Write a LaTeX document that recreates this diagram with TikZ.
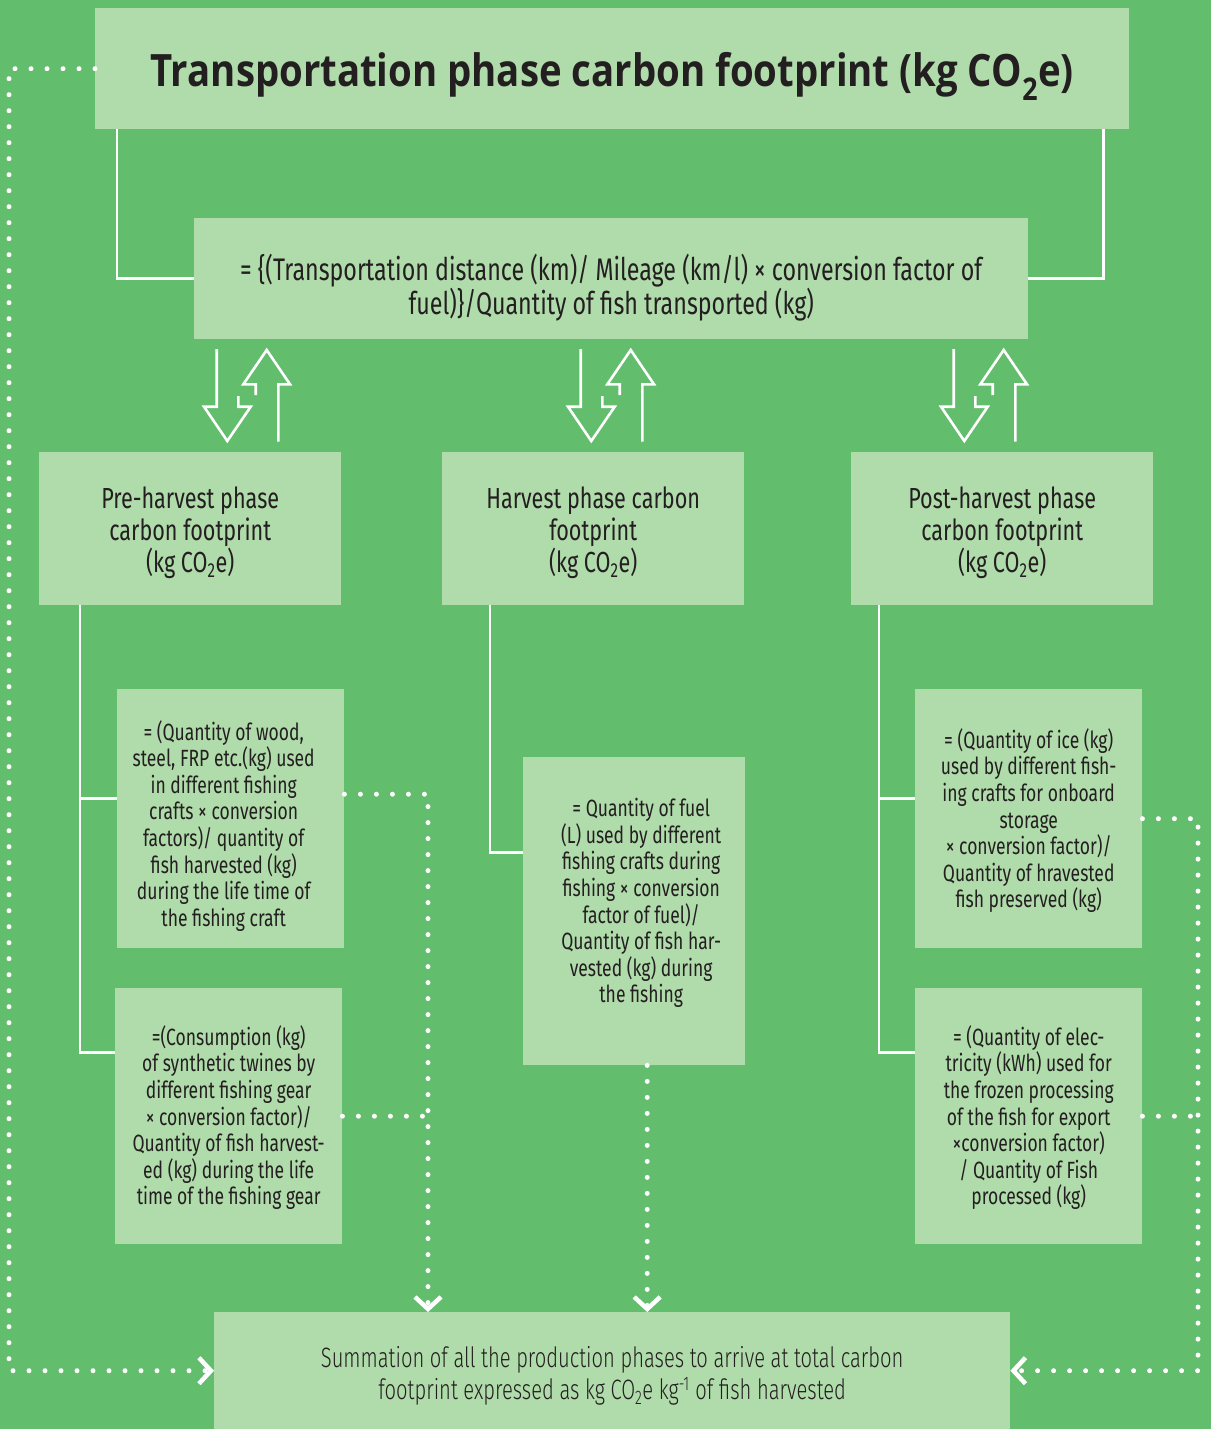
\documentclass[tikz,border=0pt]{standalone}
\usepackage{fontspec}
\setmainfont[FakeStretch=0.745]{Fira Sans}
\newfontfamily\titlefont[FakeStretch=0.86]{Open Sans}
\newfontfamily\lightfont[FakeStretch=0.72]{Fira Sans Light}
\usetikzlibrary{arrows.meta}
\definecolor{bg}{RGB}{98,189,109}
\definecolor{boxc}{RGB}{176,219,170}
\definecolor{txt}{RGB}{35,31,32}
\begin{document}
\begin{tikzpicture}[x=1pt,y=-1pt,
  box/.style={fill=boxc,inner sep=0pt,anchor=north west},
  tx/.style={text=txt,inner sep=0pt,align=center},
  wline/.style={draw=white,line width=2.8pt},
  dotline/.style={draw=white,line width=5pt,line cap=round,dash pattern=on 0pt off 16pt},
  chev/.style={-{Straight Barb[length=12pt,width=26pt,line width=4.5pt]}},
  twoarrow/.style={draw=white,line width=2.6pt,line join=miter},
  ftitle/.style={font=\titlefont\bfseries\fontsize{44.6}{50}\selectfont},
  fformula/.style={font=\fontsize{31.2}{31.5}\selectfont},
  fphase/.style={font=\fontsize{29}{32}\selectfont},
  fsub/.style={font=\fontsize{23.5}{26.6}\selectfont},
  fsum/.style={font=\lightfont\fontsize{28}{32}\selectfont}
]
\fill[bg] (0,0) rectangle (1211,1429);
\useasboundingbox (0,0) rectangle (1211,1429);

% boxes
\node[box,minimum width=1034pt,minimum height=121pt] (title) at (95,8) {};
\node[box,minimum width=834pt,minimum height=121pt] (formula) at (194,218) {};
\node[box,minimum width=302pt,minimum height=153pt] (pre) at (39,452) {};
\node[box,minimum width=302pt,minimum height=153pt] (harv) at (442,452) {};
\node[box,minimum width=302pt,minimum height=153pt] (post) at (851,452) {};
\node[box,minimum width=227pt,minimum height=259pt] (pre1) at (117,689) {};
\node[box,minimum width=227pt,minimum height=256pt] (pre2) at (115,988) {};
\node[box,minimum width=222pt,minimum height=308pt] (harv1) at (523,757) {};
\node[box,minimum width=227pt,minimum height=259pt] (post1) at (915,689) {};
\node[box,minimum width=227pt,minimum height=256pt] (post2) at (915,988) {};
\node[box,minimum width=796pt,minimum height=117pt] (sum) at (214,1312) {};

% texts
\node[tx,ftitle] (titleT) at ([yshift=-8pt]title.center)
  {Transportation phase carbon footprint (kg CO\textsubscript{2}e)};
\node[tx,fformula] (formulaT) at ([yshift=-9pt]formula.center)
  {= \{(Transportation distance (km)/ Mileage (km/l) × conversion factor of\\fuel)\}/Quantity of fish transported (kg)};
\node[tx,fphase] (preT) at ([yshift=-4pt]pre.center)
  {Pre-harvest phase\\carbon footprint\\(kg CO\textsubscript{2}e)};
\node[tx,fphase] (harvT) at ([yshift=-4pt]harv.center)
  {Harvest phase carbon\\footprint\\(kg CO\textsubscript{2}e)};
\node[tx,fphase] (postT) at ([yshift=-4pt]post.center)
  {Post-harvest phase\\carbon footprint\\(kg CO\textsubscript{2}e)};
\node[tx,fsub] (pre1T) at ([xshift=-7pt,yshift=-7pt]pre1.center)
  {= (Quantity of wood,\\steel, FRP etc.(kg) used\\in different fishing\\crafts × conversion\\factors)/ quantity of\\fish harvested (kg)\\during the life time of\\the fishing craft};
\node[tx,fsub] (pre2T) at ([yshift=-1.5pt]pre2.center)
  {=(Consumption (kg)\\of synthetic twines by\\different fishing gear\\× conversion factor)/\\Quantity of fish harvest-\\ed (kg) during the life\\time of the fishing gear};
\node[tx,fsub] (harv1T) at ([xshift=7pt,yshift=8pt]harv1.center)
  {= Quantity of fuel\\(L) used by different\\fishing crafts during\\fishing × conversion\\factor of fuel)/\\Quantity of fish har-\\vested (kg) during\\the fishing};
\node[tx,fsub] (post1T) at ([yshift=-2pt]post1.center)
  {= (Quantity of ice (kg)\\used by different fish-\\ing crafts for onboard\\storage\\× conversion factor)/\\Quantity of hravested\\fish preserved (kg)};
\node[tx,fsub] (post2T) at ([yshift=-1.5pt]post2.center)
  {= (Quantity of elec-\\tricity (kWh) used for\\the frozen processing\\of the fish for export\\×conversion factor)\\/ Quantity of Fish\\processed (kg)};
\node[tx,fsum] (sumT) at ([yshift=-5pt]sum.center)
  {Summation of all the production phases to arrive at total carbon\\footprint expressed as kg CO\textsubscript{2}e kg\textsuperscript{-1} of fish harvested};

% solid connectors
\draw[wline] ([xshift=22pt]title.south west) |- (formula.west);
\draw[wline] ([xshift=-26pt]title.south east) |- (formula.east);
\draw[wline] ([xshift=41pt]pre.south west) |- ([yshift=20.5pt]pre1.west);
\draw[wline] ([xshift=41pt]pre.south west) |- ([yshift=64pt]pre2.west);
\draw[wline] ([xshift=48pt]harv.south west) |- ([yshift=59pt]harv1.west);
\draw[wline] ([xshift=28pt]post.south west) |- ([yshift=20.5pt]post1.west);
\draw[wline] ([xshift=28pt]post.south west) |- ([yshift=64pt]post2.west);

% double arrows
\foreach \xo in {204,568,941}{
  \begin{scope}[shift={(\xo,349)}]
    \draw[twoarrow] (12.7,0) -- (12.7,57.7) -- (0,57.7) -- (23.3,92) -- (46.7,57.7) -- (34.3,57.7) -- (34.3,47);
    \draw[twoarrow] (74.3,92.7) -- (74.3,35.3) -- (86,35.3) -- (62.7,1) -- (39.3,35.3) -- (51.7,35.3) -- (51.7,46);
  \end{scope}
}

% dotted connectors
\coordinate (cl) at (9,0);
\coordinate (cr) at (1198,0);
\coordinate (dl) at ([xshift=214pt]sum.north west);
\coordinate (hb) at ([xshift=13pt]harv1.south);
\draw[dotline,chev] (title.west) -| (cl |- sum.west) -- (sum.west);
\draw[dotline,chev] ([yshift=24.5pt]pre1.east) -| (dl);
\draw[dotline] (pre2.east) -- (pre2.east -| dl);
\draw[dotline,chev] (hb) -- (hb |- sum.north);
\draw[dotline,chev] (post1.east) -| (cr |- sum.east) -- (sum.east);
\draw[dotline] (post2.east) -- (post2.east -| cr);
\end{tikzpicture}
\end{document}
